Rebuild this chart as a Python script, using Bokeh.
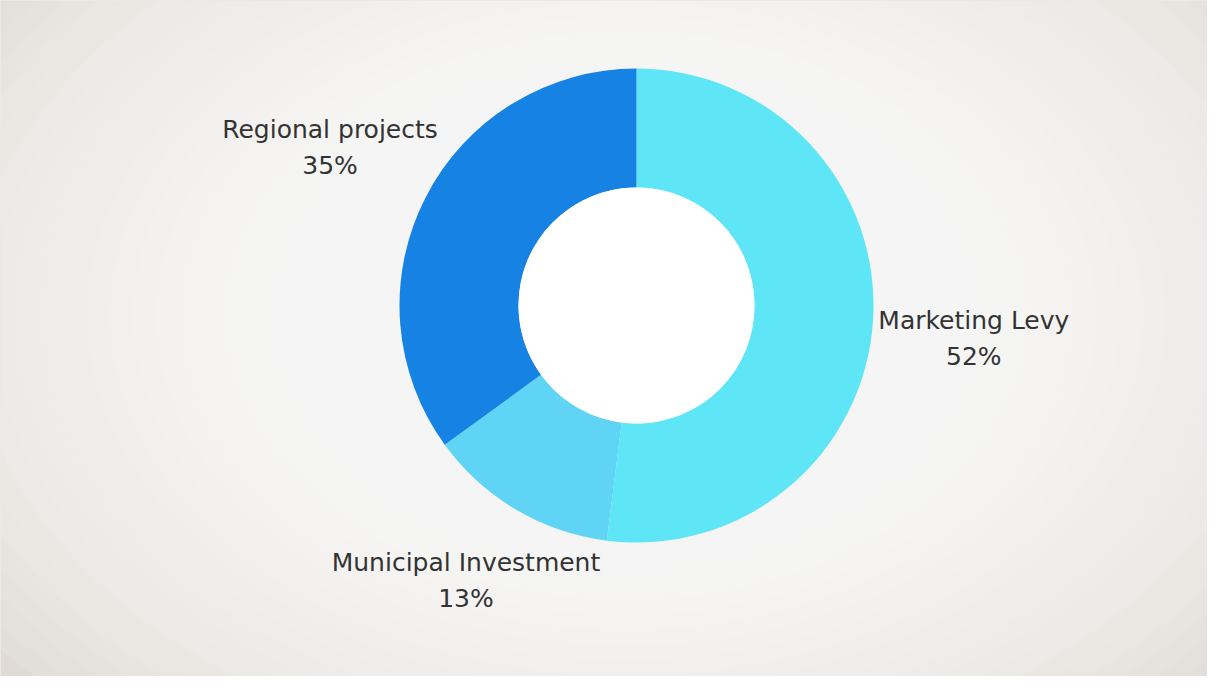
import math
from bokeh.plotting import figure
from bokeh.models import ColumnDataSource
from bokeh.core.properties import value
from bokeh.embed import file_html
from bokeh.resources import INLINE

# Data
categories = ["Marketing Levy", "Municipal Investment", "Regional projects"]
shares = [52, 13, 35]
colors = ["#5ee6f6", "#5fd4f4", "#1682e4"]
# style: small label nudges (px)
label_nudge_x = [3, 0, -8]
label_nudge_y = [-12, 13, 6]

W, H = 1207, 676
cx, cy = 636, 371
r_out, r_in = 237, 118
label_r = 335

total = float(sum(shares))
starts, ends, lx, ly = [], [], [], []
a = math.pi / 2
for i, s in enumerate(shares):
    sweep = 2 * math.pi * s / total
    starts.append(a - sweep)
    ends.append(a)
    mid = a - sweep / 2
    lx.append(cx + label_r * math.cos(mid) + label_nudge_x[i])
    ly.append(cy + label_r * math.sin(mid) + label_nudge_y[i])
    a -= sweep

src = ColumnDataSource(dict(
    cat=categories, start=starts, end=ends, color=colors,
    lx=lx, ly1=[y + 18 for y in ly], ly2=[y - 18 for y in ly],
    pct=[f"{s}%" for s in shares],
))

p = figure(width=W, height=H, x_range=(0, W), y_range=(0, H),
           output_backend="svg", toolbar_location=None, min_border=0)
p.axis.visible = False
p.grid.visible = False
p.outline_line_color = None
p.background_fill_color = "#d4cec4"
p.border_fill_color = "#d4cec4"

# soft vignette: bright screen centre fading to grey-beige edges
n = 30
for k in range(n):
    f = 1 - k / n
    p.ellipse(x=cx - 10, y=cy - 10, width=380 + 1400 * f, height=300 + 900 * f,
              fill_color="white", fill_alpha=0.085, line_color=None)

p.annular_wedge(x=cx, y=cy, inner_radius=r_in, outer_radius=r_out,
                start_angle="start", end_angle="end", direction="anticlock",
                fill_color="color", line_color=None, source=src)
p.circle(x=cx, y=cy, radius=r_in, fill_color="white", line_color=None)

p.text(x="lx", y="ly1", text="cat", source=src, text_align="center",
       text_baseline="middle", text_font=value("DejaVu Sans"),
       text_font_size="25px", text_color="#333333")
p.text(x="lx", y="ly2", text="pct", source=src, text_align="center",
       text_baseline="middle", text_font=value("DejaVu Sans"),
       text_font_size="25px", text_color="#333333")

open("out.html", "w").write(file_html(p, INLINE))
